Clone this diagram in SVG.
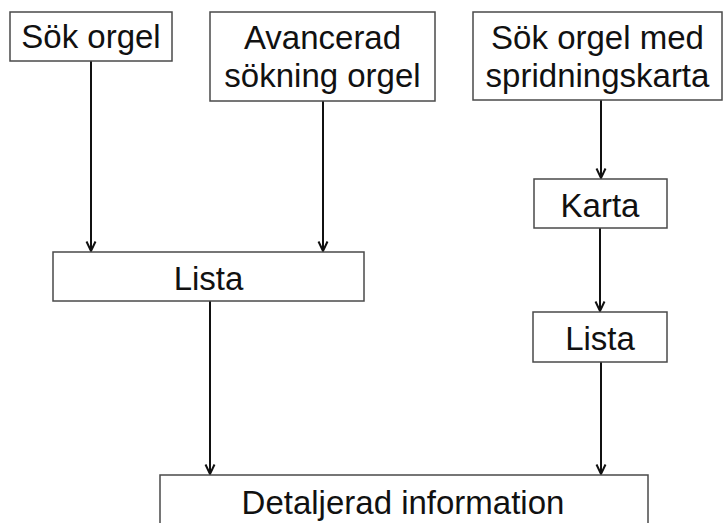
<svg xmlns="http://www.w3.org/2000/svg" width="723" height="523" viewBox="0 0 723 523">
<style>
.box{fill:#fff;stroke:#4a4a4a;stroke-width:1.5}
.t{font-family:"Liberation Sans",Arial,sans-serif;font-size:33px;fill:#111;text-anchor:middle}
.c{stroke:#111;stroke-width:2;fill:none;marker-end:url(#ah)}
</style>
<defs>
<marker id="ah" viewBox="0 0 12 12" refX="11" refY="6" markerWidth="12" markerHeight="12" markerUnits="userSpaceOnUse" orient="auto">
<path d="M1.5,1.5 L11,6 L1.5,10.5" fill="none" stroke="#111" stroke-width="2"/>
</marker>
</defs>
<rect width="723" height="523" fill="#fff"/>
<g id="connectors">
<line class="c" x1="91" y1="61" x2="91" y2="251"/>
<line class="c" x1="323" y1="101" x2="323" y2="251"/>
<line class="c" x1="601" y1="100" x2="601" y2="178"/>
<line class="c" x1="600" y1="228" x2="600" y2="311"/>
<line class="c" x1="210" y1="301" x2="210" y2="474"/>
<line class="c" x1="601" y1="362" x2="601" y2="474"/>
</g>
<g id="n1"><rect class="box" x="10" y="12" width="162" height="49"/><text class="t" x="91" y="48">Sök orgel</text></g>
<g id="n2"><rect class="box" x="210" y="12" width="225" height="89"/><text class="t" x="322.5" y="49">Avancerad<tspan x="322.5" dy="38">sökning orgel</tspan></text></g>
<g id="n3"><rect class="box" x="473" y="12" width="249" height="88"/><text class="t" x="597.5" y="49">Sök orgel med<tspan x="597.5" dy="38">spridningskarta</tspan></text></g>
<g id="n4"><rect class="box" x="53" y="252" width="311" height="49"/><text class="t" x="208.5" y="290">Lista</text></g>
<g id="n5"><rect class="box" x="534" y="179" width="133" height="49"/><text class="t" x="600" y="217">Karta</text></g>
<g id="n6"><rect class="box" x="533" y="312" width="134" height="50"/><text class="t" x="600" y="350">Lista</text></g>
<g id="n7"><rect class="box" x="160" y="475" width="488" height="60"/><text class="t" x="403" y="514">Detaljerad information</text></g>
</svg>
